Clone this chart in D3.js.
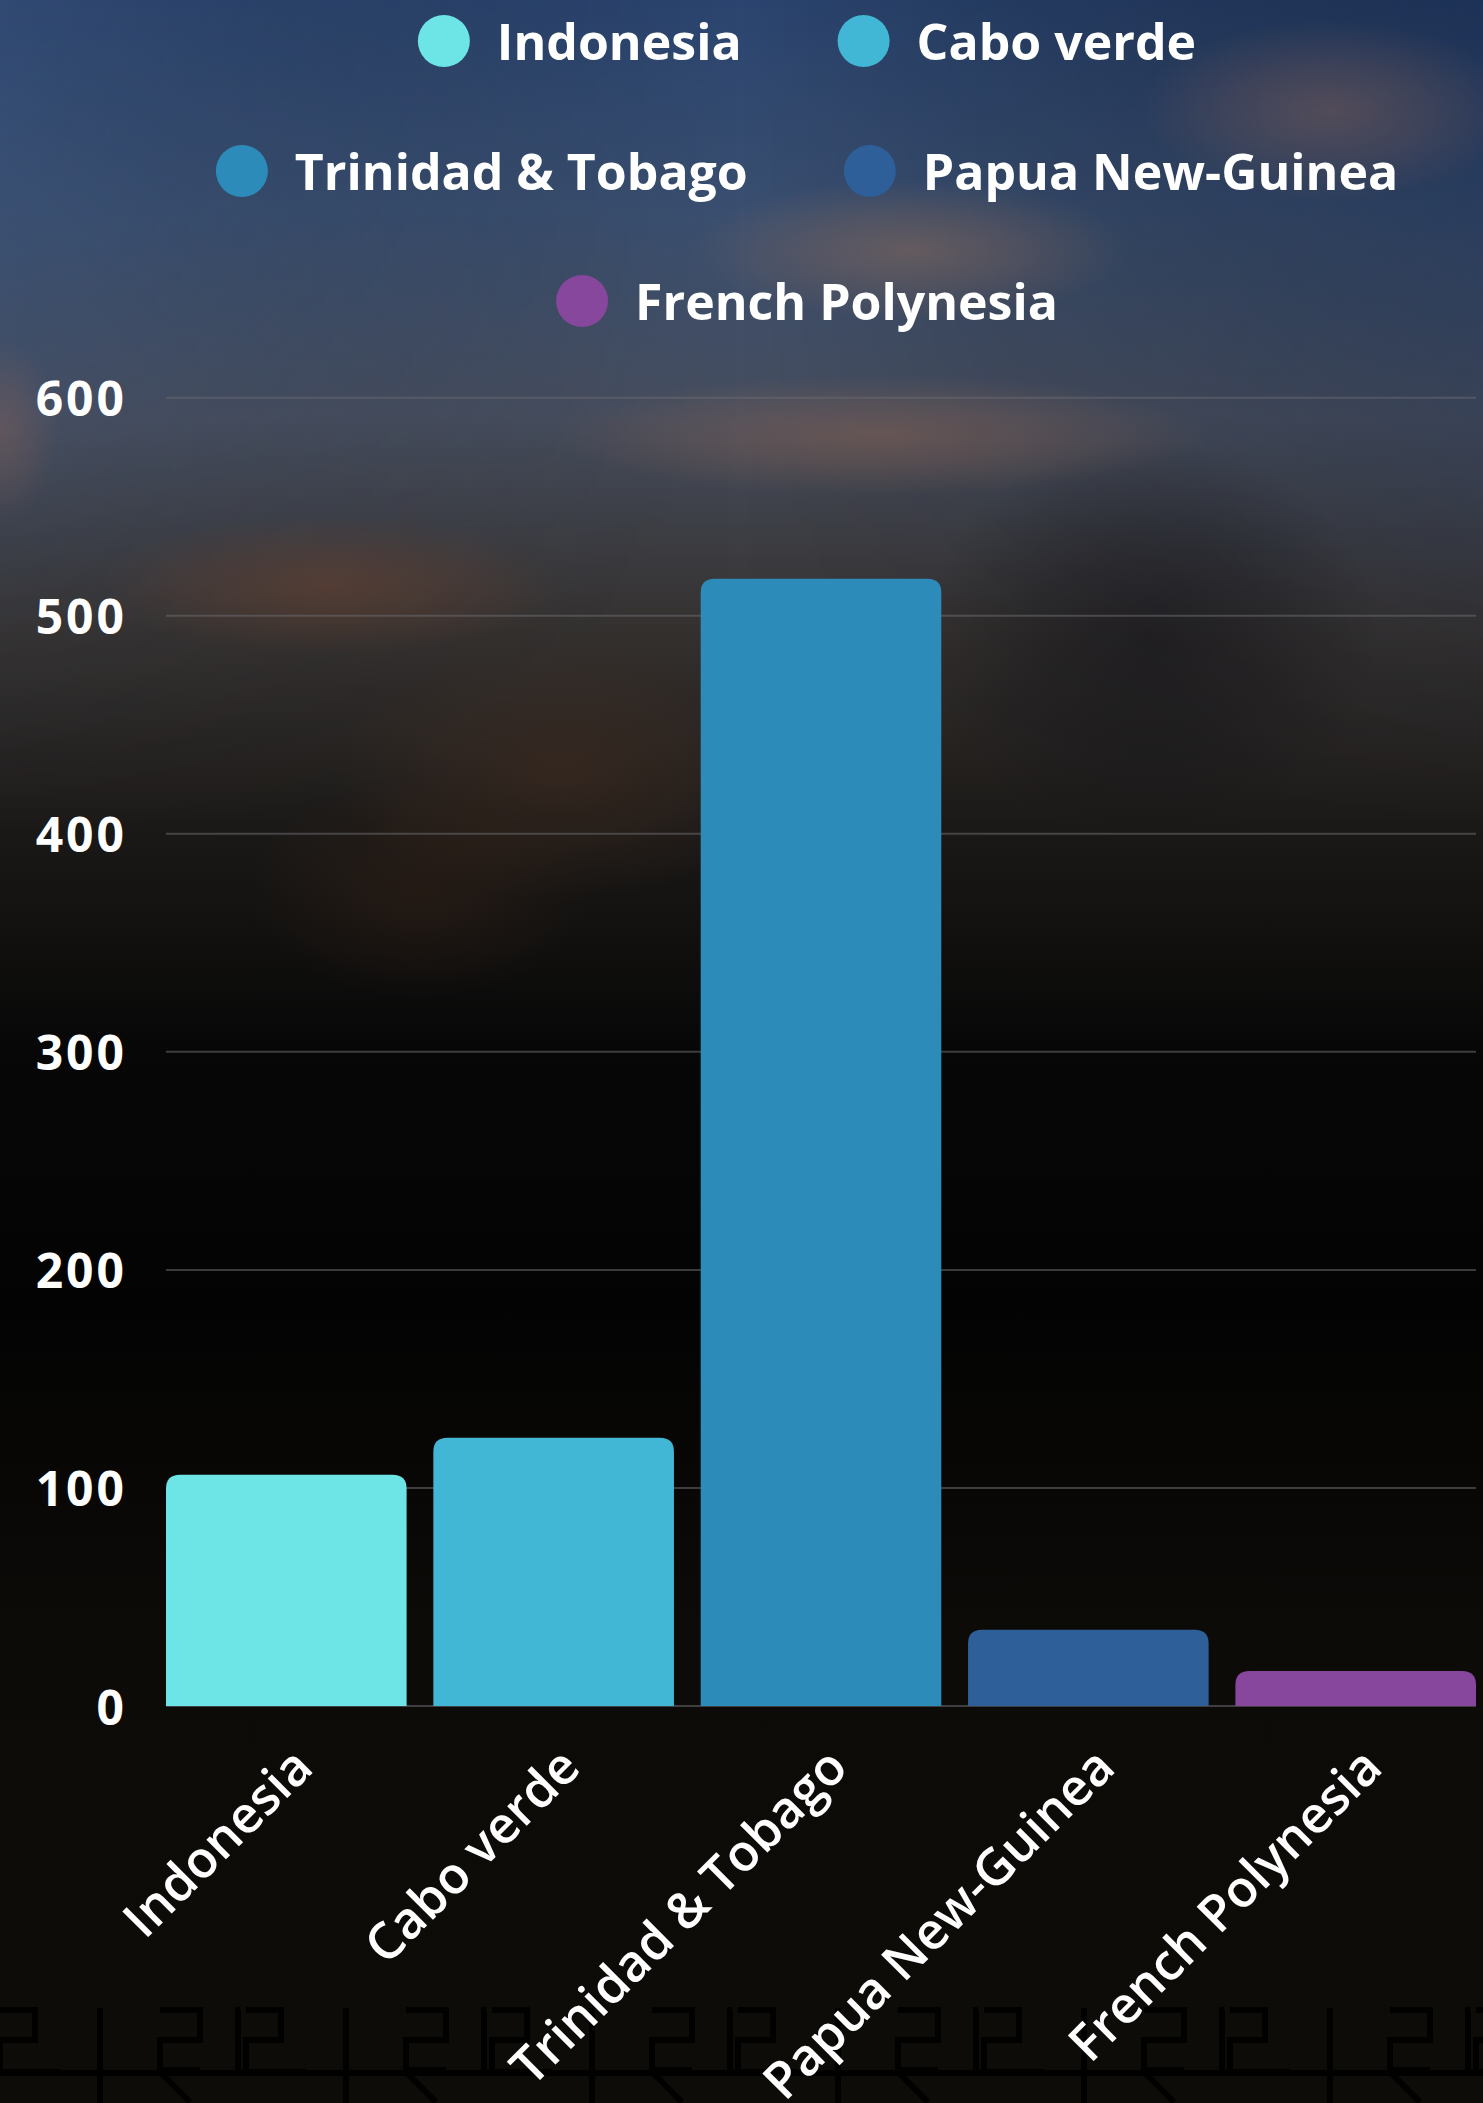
<!DOCTYPE html>
<html>
<head>
<meta charset="utf-8">
<script src="https://cdn.jsdelivr.net/npm/d3@7"></script>
<style>
  html, body { margin: 0; padding: 0; background: #000; }
  svg { display: block; }
</style>
</head>
<body>
<div id="chart"></div>
<script>
const categories = ["Indonesia", "Cabo verde", "Trinidad & Tobago", "Papua New-Guinea", "French Polynesia"];
const values = [106, 123, 517, 35, 16];
const colors = ["#6de5e7", "#41b7d5", "#2d8bba", "#2e5f99", "#87479c"];
const yTicks = [0, 100, 200, 300, 400, 500, 600];

const W = 1483, H = 2103;
const plot = { left: 166, right: 1476, top: 397.7, bottom: 1706 };

const svg = d3.select("#chart").append("svg").attr("width", W).attr("height", H);
const defs = svg.append("defs");

// background gradient
const bg = defs.append("linearGradient").attr("id", "bg").attr("x1", 0).attr("y1", 0).attr("x2", 0).attr("y2", 1);
[[0, "#2b4570"], [0.1, "#3a4f70"], [0.2, "#474e5e"], [0.3, "#35312f"], [0.4, "#1a1816"], [0.5, "#070707"], [0.62, "#030303"], [0.78, "#0d0b08"], [1, "#0e0c09"]]
  .forEach(([o, c]) => bg.append("stop").attr("offset", o).attr("stop-color", c));
const side = defs.append("linearGradient").attr("id", "side").attr("x1", 0).attr("y1", 0).attr("x2", 1).attr("y2", 0);
[[0, "#3b5379", 0.35], [0.5, "#000", 0], [1, "#10203e", 0.5]]
  .forEach(([o, c, a]) => side.append("stop").attr("offset", o).attr("stop-color", c).attr("stop-opacity", a));
const sideMask = defs.append("linearGradient").attr("id", "sidefade").attr("x1", 0).attr("y1", 0).attr("x2", 0).attr("y2", 1);
sideMask.append("stop").attr("offset", 0).attr("stop-color", "#fff");
sideMask.append("stop").attr("offset", 0.4).attr("stop-color", "#000");
defs.append("mask").attr("id", "m1").append("rect").attr("width", W).attr("height", H).attr("fill", "url(#sidefade)");

svg.append("rect").attr("width", W).attr("height", H).attr("fill", "url(#bg)");
svg.append("rect").attr("width", W).attr("height", H).attr("fill", "url(#side)").attr("mask", "url(#m1)");

// soft blurred light patches (radial gradients, no filter)
const blobs = [
  [1330, 110, 190, 90, "#8a6258", 0.45],
  [910, 250, 220, 70, "#9a7058", 0.45],
  [880, 435, 330, 60, "#8a6252", 0.5],
  [330, 585, 230, 70, "#6a4230", 0.55],
  [560, 770, 230, 130, "#4a3022", 0.45],
  [420, 890, 170, 110, "#3a2418", 0.4],
  [1150, 640, 230, 200, "#0e0e14", 0.5],
  [0, 430, 60, 90, "#8a6258", 0.4]
];
blobs.forEach((b, i) => {
  const rg = defs.append("radialGradient").attr("id", "blob" + i);
  rg.append("stop").attr("offset", 0).attr("stop-color", b[4]).attr("stop-opacity", b[5]);
  rg.append("stop").attr("offset", 0.5).attr("stop-color", b[4]).attr("stop-opacity", b[5] * 0.55);
  rg.append("stop").attr("offset", 1).attr("stop-color", b[4]).attr("stop-opacity", 0);
});
svg.append("g").selectAll("ellipse").data(blobs).join("ellipse")
  .attr("cx", d => d[0]).attr("cy", d => d[1]).attr("rx", d => d[2]).attr("ry", d => d[3])
  .attr("fill", (d, i) => `url(#blob${i})`);

// decorative pattern at bottom
const deco = svg.append("g").attr("stroke", "#000").attr("stroke-width", 6).attr("fill", "none").attr("opacity", 0.9);
for (let x0 = 0; x0 < W; x0 += 246) {
  deco.append("path").attr("d",
    `M${x0},2010 h35 v30 h-35 v32 h60 M${x0 + 100},2008 v64 M${x0 + 160},2010 h40 v30 h-40 v30 h40
     M${x0 + 240},2010 h-2 v62 M${x0 + 100},2072 v31 M${x0 + 160},2072 l30 30`);
}
deco.append("line").attr("x1", 0).attr("x2", W).attr("y1", 2073).attr("y2", 2073);

// scales
const x = d3.scaleBand().domain(categories).range([plot.left, plot.right]).paddingInner(0.1).paddingOuter(0);
const y = d3.scaleLinear().domain([0, 600]).range([plot.bottom, plot.top]);

// grid lines
svg.append("g").selectAll("line").data(yTicks).join("line")
  .attr("x1", plot.left).attr("x2", plot.right)
  .attr("y1", d => y(d)).attr("y2", d => y(d))
  .attr("stroke", "#6a6a70").attr("stroke-opacity", 0.55).attr("stroke-width", 2);

// y tick labels
svg.append("g").selectAll("text").data(yTicks).join("text")
  .attr("x", 127).attr("y", d => y(d))
  .attr("text-anchor", "end").attr("dominant-baseline", "central")
  .attr("fill", "#fff").attr("font-family", "'Open Sans', sans-serif").attr("font-weight", 700)
  .attr("font-size", 48).attr("letter-spacing", 3)
  .text(d => d);

// bars with rounded top corners
const r = 14;
function barPath(d, i) {
  const x0 = x(categories[i]), w = x.bandwidth();
  const y0 = y(0), y1 = y(d);
  const rr = Math.min(r, (y0 - y1));
  return `M${x0},${y0} V${y1 + rr} Q${x0},${y1} ${x0 + rr},${y1} H${x0 + w - rr} Q${x0 + w},${y1} ${x0 + w},${y1 + rr} V${y0} Z`;
}
svg.append("g").selectAll("path").data(values).join("path")
  .attr("d", (d, i) => barPath(d, i))
  .attr("fill", (d, i) => colors[i]);

// x labels (rotated)
svg.append("g").selectAll("text").data(categories).join("text")
  .attr("transform", d => `translate(${x(d) + x.bandwidth() / 2 + 29},${plot.bottom + 64}) rotate(-45)`)
  .attr("text-anchor", "end")
  .attr("fill", "#fff").attr("font-family", "'Open Sans', sans-serif").attr("font-weight", 600)
  .attr("font-size", 51)
  .text(d => d);

// legend
const legend = svg.append("g");
const fontL = { family: "'Open Sans', sans-serif", weight: 700, size: 50 };
const circR = 26, textOff = 53, gap = 96, maxW = 1310, legendCx = 807;
const rowY = [41, 171, 301];
const meas = svg.append("text").attr("font-family", fontL.family).attr("font-weight", fontL.weight).attr("font-size", fontL.size);
const items = categories.map((c, i) => {
  meas.text(c);
  const tw = meas.node().getComputedTextLength();
  return { name: c, color: colors[i], w: circR + textOff + tw };
});
meas.remove();
const rows = [];
let cur = [], curW = 0;
items.forEach(it => {
  const add = cur.length ? gap + it.w : it.w;
  if (cur.length && curW + add > maxW) { rows.push(cur); cur = [it]; curW = it.w; }
  else { cur.push(it); curW += add; }
});
if (cur.length) rows.push(cur);
rows.forEach((row, ri) => {
  const total = row.reduce((s, it) => s + it.w, 0) + gap * (row.length - 1);
  let xs = legendCx - total / 2;
  const cy = rowY[ri] !== undefined ? rowY[ri] : 41 + ri * 130;
  row.forEach(it => {
    const g = legend.append("g");
    g.append("circle").attr("cx", xs + circR).attr("cy", cy).attr("r", circR).attr("fill", it.color);
    g.append("text").attr("x", xs + circR + textOff).attr("y", cy)
      .attr("dominant-baseline", "central")
      .attr("fill", "#fff").attr("font-family", fontL.family).attr("font-weight", fontL.weight)
      .attr("font-size", fontL.size).text(it.name);
    xs += it.w + gap;
  });
});
</script>
</body>
</html>
